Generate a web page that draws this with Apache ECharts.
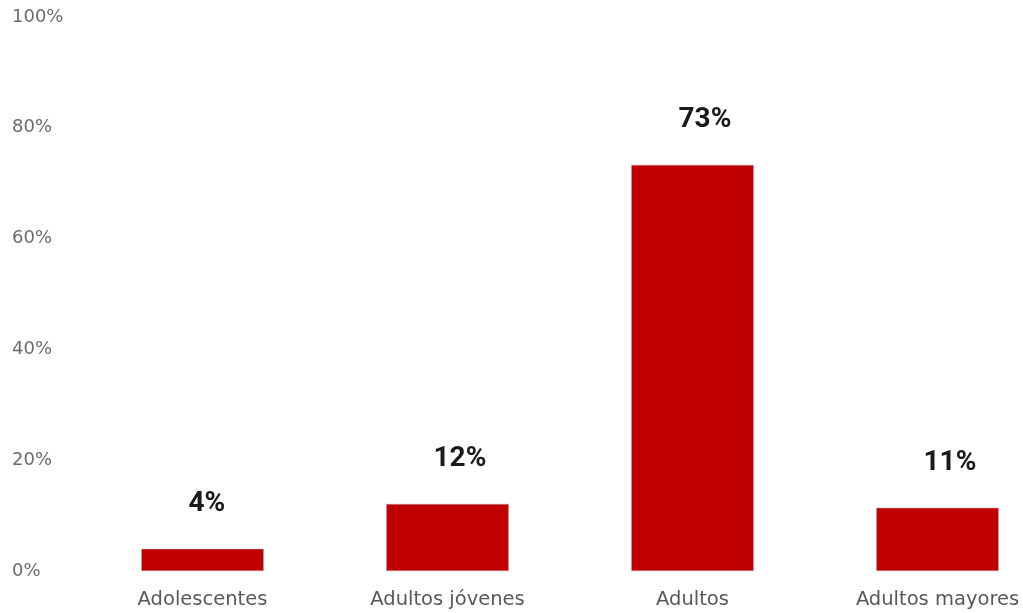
<!DOCTYPE html>
<html>
<head>
<meta charset="utf-8">
<script src="https://cdn.jsdelivr.net/npm/echarts@6/dist/echarts.min.js"></script>
<style>html,body{margin:0;padding:0;background:#fff}#c{width:1023px;height:613px}</style>
</head>
<body>
<div id="c"></div>
<script>
const categories = ['Adolescentes', 'Adultos jóvenes', 'Adultos', 'Adultos mayores'];
const values = [4, 12.1, 73.3, 11.4];
const yTicks = [0, 20, 40, 60, 80, 100];

const chart = echarts.init(document.getElementById('c'));
chart.setOption({
  animation: false,
  grid: { left: 80, width: 980, top: 17, bottom: 42, outerBoundsMode: 'none', containLabel: false },
  xAxis: {
    type: 'category',
    data: categories,
    axisLine: { show: false },
    axisTick: { show: false },
    axisLabel: { color: '#595959', fontSize: 19.5, fontFamily: 'DejaVu Sans', margin: 19 }
  },
  yAxis: {
    type: 'value',
    min: yTicks[0],
    max: yTicks[yTicks.length - 1],
    interval: 20,
    splitLine: { show: false },
    axisLine: { show: false },
    axisTick: { show: false },
    axisLabel: {
      color: '#6b6b6b', fontSize: 18, fontFamily: 'DejaVu Sans',
      align: 'left', margin: 68, padding: [9, 0, 0, 0],
      formatter: v => v + '%'
    }
  },
  series: [{
    type: 'bar',
    data: values,
    barWidth: '50%',
    itemStyle: { color: '#C00000', borderColor: '#b5a0a0', borderWidth: 0.5 },
    label: {
      show: true,
      position: 'top',
      distance: 31,
      align: 'left',
      offset: [-14, 0],
      color: '#1a1a1a',
      fontSize: 28,
      fontWeight: 'bold',
      fontFamily: 'Roboto',
      formatter: p => Math.round(p.value) + '%'
    }
  }]
});
</script>
</body>
</html>
